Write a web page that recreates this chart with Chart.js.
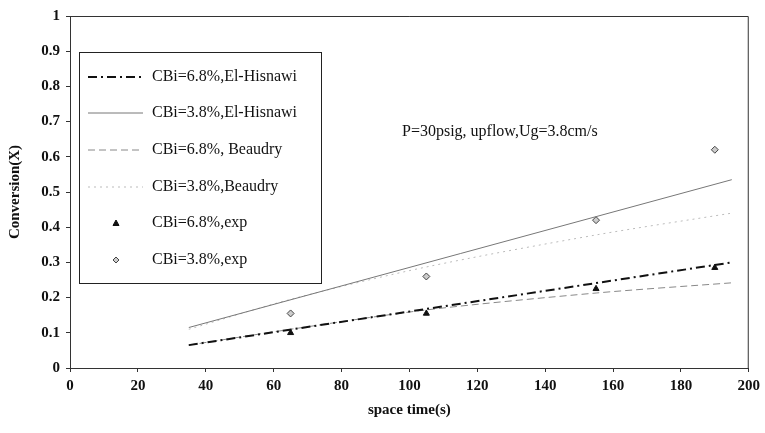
<!DOCTYPE html>
<html>
<head>
<meta charset="utf-8">
<script src="https://cdn.jsdelivr.net/npm/chart.js@4.4.0/dist/chart.umd.min.js"></script>
<style>
  html, body { margin: 0; padding: 0; background: #fff; }
  #wrap { width: 765px; height: 433px; }
</style>
</head>
<body>
<div id="wrap"><canvas id="myChart" width="765" height="433"></canvas></div>
<script>
// El-Hisnawi model lines (straight)
const lineX = [35, 195];
const elHisnawi68 = [0.065, 0.300];
const elHisnawi38 = [0.115, 0.535];

// Beaudry model curves (slightly bent)
const beaudryX = [35, 65, 105, 155, 195];
const beaudry68 = [0.065, 0.110, 0.165, 0.213, 0.242];
const beaudry38 = [0.110, 0.195, 0.287, 0.378, 0.440];

// experimental points
const expX = [65, 105, 155, 190];
const exp68 = [0.100, 0.155, 0.225, 0.285];
const exp38 = [0.155, 0.260, 0.420, 0.620];

const labels = [
  "CBi=6.8%,El-Hisnawi",
  "CBi=3.8%,El-Hisnawi",
  "CBi=6.8%, Beaudry",
  "CBi=3.8%,Beaudry",
  "CBi=6.8%,exp",
  "CBi=3.8%,exp",
];

const toPts = (xs, ys) => xs.map((x, i) => ({ x: x, y: ys[i] }));
const SERIF = "'Liberation Serif', 'DejaVu Serif', serif";

// draws the boxed legend inside the plot area, plus the note and the frame
const boxPlugin = {
  id: "boxPlugin",
  afterDraw(chart) {
    const c = chart.ctx;
    const a = chart.chartArea;
    c.save();
    // frame top + right
    c.strokeStyle = "#333";
    c.lineWidth = 1;
    c.beginPath();
    c.moveTo(a.left, a.top + 0.5);
    c.lineTo(a.right - 0.5, a.top + 0.5);
    c.lineTo(a.right - 0.5, a.bottom);
    c.stroke();

    // legend box
    const bx = 79, by = 52, bw = 242, bh = 231;
    c.fillStyle = "#fff";
    c.fillRect(bx, by, bw, bh);
    c.strokeStyle = "#222";
    c.strokeRect(bx + 0.5, by + 0.5, bw, bh);

    const rows = [77, 113, 150, 187, 223, 260];
    c.font = "16px " + SERIF;
    c.textBaseline = "middle";
    chart.data.datasets.forEach((ds, i) => {
      const y = rows[i];
      if (ds.showLine) {
        c.strokeStyle = ds.borderColor;
        c.lineWidth = ds.borderWidth;
        c.setLineDash(ds.borderDash || []);
        c.beginPath();
        c.moveTo(88, y);
        c.lineTo(143, y);
        c.stroke();
        c.setLineDash([]);
      } else {
        c.fillStyle = ds.backgroundColor;
        c.strokeStyle = ds.borderColor;
        c.lineWidth = 1;
        c.beginPath();
        if (ds.pointStyle === "triangle") {
          c.moveTo(116, y - 3);
          c.lineTo(119, y + 2.5);
          c.lineTo(113, y + 2.5);
        } else {
          c.moveTo(116, y - 3);
          c.lineTo(119, y);
          c.lineTo(116, y + 3);
          c.lineTo(113, y);
        }
        c.closePath();
        c.fill();
        c.stroke();
      }
      c.fillStyle = "#111";
      c.fillText(labels[i], 152, y);
    });

    // note
    c.font = "16px " + SERIF;
    c.fillStyle = "#111";
    c.fillText("P=30psig, upflow,Ug=3.8cm/s", 402, 132);
    c.restore();
  },
};

const ctx = document.getElementById("myChart").getContext("2d");

const myChart = new Chart(ctx, {
  type: "scatter",
  data: {
    datasets: [
      {
        label: labels[0],
        data: toPts(lineX, elHisnawi68),
        showLine: true,
        borderColor: "#111",
        borderWidth: 2,
        borderDash: [9, 4, 2, 4],
        pointRadius: 0,
      },
      {
        label: labels[1],
        data: toPts(lineX, elHisnawi38),
        showLine: true,
        borderColor: "#777",
        borderWidth: 1,
        pointRadius: 0,
      },
      {
        label: labels[2],
        data: toPts(beaudryX, beaudry68),
        showLine: true,
        borderColor: "#888",
        borderWidth: 1,
        borderDash: [7, 4],
        tension: 0.3,
        pointRadius: 0,
      },
      {
        label: labels[3],
        data: toPts(beaudryX, beaudry38),
        showLine: true,
        borderColor: "#bbb",
        borderWidth: 1,
        borderDash: [2, 4],
        tension: 0.3,
        pointRadius: 0,
      },
      {
        label: labels[4],
        data: toPts(expX, exp68),
        showLine: false,
        pointStyle: "triangle",
        pointRadius: 3.5,
        backgroundColor: "#111",
        borderColor: "#111",
        borderWidth: 1,
      },
      {
        label: labels[5],
        data: toPts(expX, exp38),
        showLine: false,
        pointStyle: "rectRot",
        pointRadius: 3.5,
        backgroundColor: "#ccc",
        borderColor: "#444",
        borderWidth: 1,
      },
    ],
  },
  options: {
    responsive: false,
    animation: false,
    layout: { padding: { top: 16, right: 13, left: 6, bottom: 14 } },
    plugins: {
      legend: { display: false },
      tooltip: { enabled: false },
    },
    scales: {
      x: {
        type: "linear",
        min: 0,
        max: 200,
        ticks: {
          stepSize: 20,
          color: "#111",
          padding: 5,
          font: { family: SERIF, size: 15, weight: "bold" },
        },
        grid: { drawOnChartArea: false, tickLength: 4, color: "#333" },
        border: { color: "#333" },
        title: {
          display: true,
          text: "space time(s)",
          color: "#111",
          font: { family: SERIF, size: 15, weight: "bold" },
          padding: 0,
        },
        afterFit(scale) { scale.height = 51; },
      },
      y: {
        min: 0,
        max: 1,
        ticks: {
          stepSize: 0.1,
          color: "#111",
          padding: 6,
          font: { family: SERIF, size: 15, weight: "bold" },
          callback: (v) => String(Math.round(v * 10) / 10),
        },
        grid: { drawOnChartArea: false, tickLength: 4, color: "#333" },
        border: { color: "#333" },
        title: {
          display: true,
          text: "Conversion(X)",
          color: "#111",
          font: { family: SERIF, size: 15, weight: "bold" },
          padding: 0,
        },
        afterFit(scale) { scale.width = 64; },
      },
    },
  },
  plugins: [boxPlugin],
});
</script>
</body>
</html>
